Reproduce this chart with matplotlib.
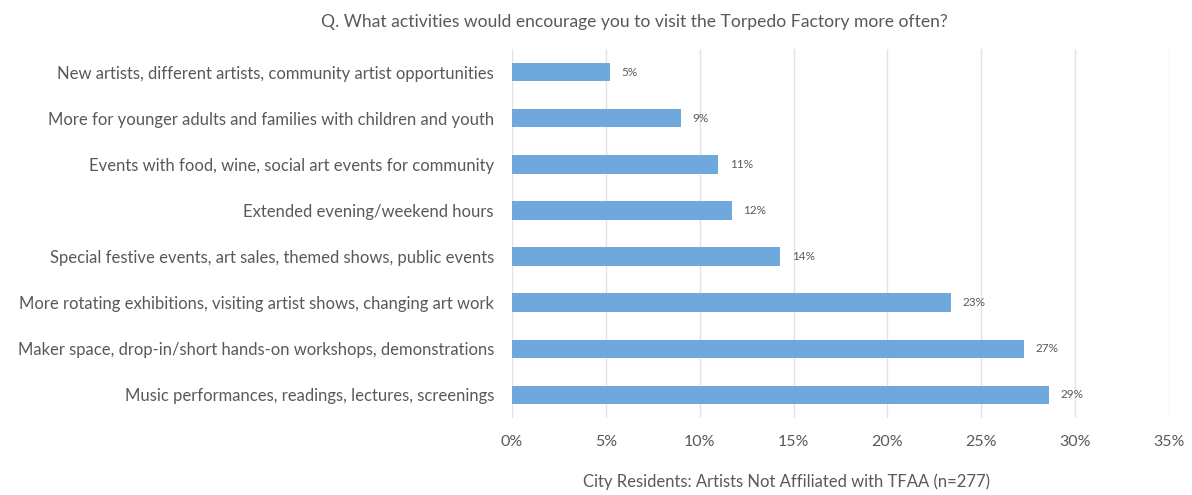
import matplotlib
matplotlib.use("Agg")
import matplotlib.pyplot as plt

categories = [
    "New artists, different artists, community artist opportunities",
    "More for younger adults and families with children and youth",
    "Events with food, wine, social art events for community",
    "Extended evening/weekend hours",
    "Special festive events, art sales, themed shows, public events",
    "More rotating exhibitions, visiting artist shows, changing art work",
    "Maker space, drop-in/short hands-on workshops, demonstrations",
    "Music performances, readings, lectures, screenings",
]
values = [5.2, 9.0, 11.0, 11.7, 14.3, 23.4, 27.3, 28.6]
value_labels = ["5%", "9%", "11%", "12%", "14%", "23%", "27%", "29%"]
xticks = [0, 5, 10, 15, 20, 25, 30, 35]

plt.rcParams['font.family'] = ['Lato', 'DejaVu Sans']
gray = '#595959'

fig = plt.figure(figsize=(11.92, 4.95), dpi=100)
ax = fig.add_axes([0.4295, 0.1556, 0.5512, 0.7454])

ypos = list(range(len(categories)))[::-1]
ax.barh(ypos, values, height=0.4, color='#6FA8DC', zorder=3)
for y, v, lab in zip(ypos, values, value_labels):
    ax.text(v + 0.6, y, lab, va='center', ha='left', fontsize=8.5, color=gray)

ax.set_yticks(ypos)
ax.set_yticklabels(categories, fontsize=12, color=gray)
ax.set_ylim(-0.5, len(categories) - 0.5)
ax.set_xlim(0, 35)
ax.set_xticks(xticks)
ax.set_xticklabels(["%d%%" % t for t in xticks], fontsize=11.5, color=gray)
ax.tick_params(axis='both', length=0)
ax.tick_params(axis='y', pad=13)
ax.tick_params(axis='x', pad=12)
ax.grid(axis='x', color='#E3E3E3', linewidth=1, zorder=0)
for s in ax.spines.values():
    s.set_visible(False)

fig.text(0.532, 0.955, "Q. What activities would encourage you to visit the Torpedo Factory more often?",
         ha='center', va='center', fontsize=12.6, color=gray)
fig.text(0.66, 0.026, "City Residents: Artists Not Affiliated with TFAA (n=277)",
         ha='center', va='center', fontsize=12, color=gray)

fig.savefig("out.png", dpi=100)
